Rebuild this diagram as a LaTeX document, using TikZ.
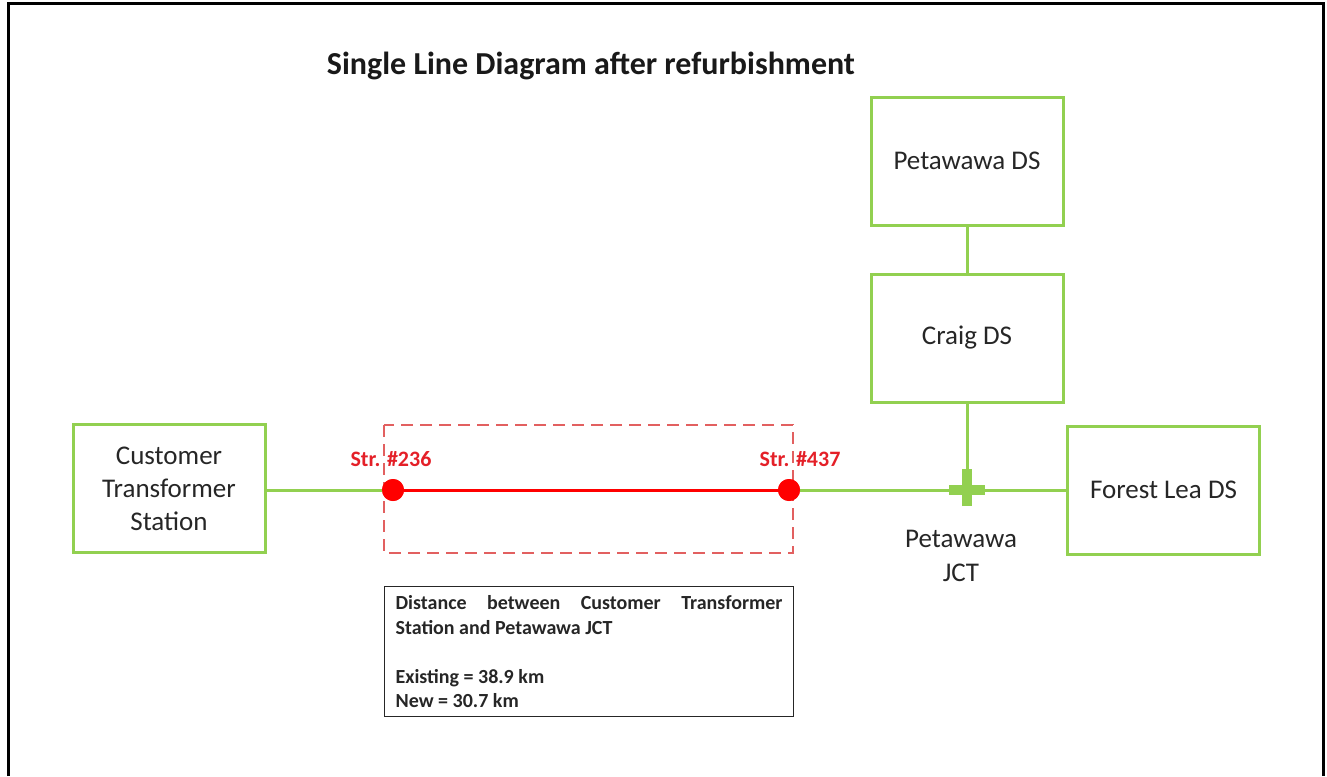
\documentclass[tikz,border=0pt]{standalone}
\usepackage{fontspec}
\setmainfont{Carlito}
\definecolor{lgreen}{RGB}{146,208,80}
\definecolor{dred}{RGB}{255,0,0}
\definecolor{lblred}{RGB}{228,32,40}
\definecolor{dashred}{RGB}{226,96,96}
\definecolor{txt}{RGB}{38,38,38}
\tikzset{
  gbox/.style={draw=lgreen, line width=3pt, minimum width=192pt, minimum height=128pt,
    align=center, text=txt, font=\fontsize{27}{33}\selectfont, inner sep=0pt},
  gline/.style={draw=lgreen, line width=3pt},
  rline/.style={draw=dred, line width=3pt},
  reddot/.style={circle, fill=dred, minimum size=22pt, inner sep=0pt},
  strlbl/.style={text=lblred, font=\fontsize{22}{26}\selectfont\bfseries, inner sep=0pt},
  dashbox/.style={draw=dashred, line width=2pt, dash pattern=on 12pt off 7pt},
  notebox/.style={draw=black!85, line width=1.2pt, anchor=north west, text width=387pt,
    inner xsep=11pt, inner ysep=9pt, align=justify, text=txt,
    font=\fontsize{20}{24.5}\selectfont\bfseries},
}
\begin{document}
\begin{tikzpicture}[x=1pt,y=-1pt]
\useasboundingbox (0,0) rectangle (1327,776);
% frame
\draw[line width=3pt, black] (8,776) -- (8,4) -- (1323,4) -- (1323,776);
% title
\node[font=\fontsize{32}{38}\selectfont\bfseries, text=black!90, inner sep=0pt] (title) at (591,66) {Single Line Diagram after refurbishment};
% boxes
\node[gbox] (cts) at (169,488.5) {Customer\\Transformer\\Station};
\node[gbox] (pds) at (967,161) {Petawawa DS};
\node[gbox] (craig) at (967,338) {Craig DS};
\node[gbox] (fl) at (1163.5,490) {Forest Lea DS};
% dashed region
\draw[dashbox] (384,425) rectangle (793,553);
% structures
\coordinate (jct) at (967,490);
\node[reddot] (s236) at (393,490) {};
\node[reddot] (s437) at (789,490) {};
% connectors
\draw[gline] (cts.east |- s236) -- (s236.center);
\draw[rline] (s236.center) -- (s437.center);
\draw[gline] (s437.center) -- (jct) -- (fl.west |- jct);
\draw[gline] (pds.south) -- (craig.north);
\draw[gline] (craig.south) -- (jct);
\node[reddot] at (s236) {};
\node[reddot] at (s437) {};
% junction plus
\draw[lgreen, line width=10pt] ([xshift=-18pt]jct) -- ([xshift=18pt]jct);
\draw[lgreen, line width=10pt] ([yshift=-16pt]jct) -- ([yshift=21pt]jct);
% labels
\node[strlbl] (l236) at (391,459) {Str. \#236};
\node[strlbl] (l437) at (800,459) {Str. \#437};
\node[align=center, text=txt, font=\fontsize{27}{34}\selectfont, inner sep=0pt] (jctlbl) at (961,556) {Petawawa\\JCT};
% note
\node[notebox] (note) at (384,586) {Distance between Customer Transformer\linebreak Station and Petawawa JCT\\[24.5pt]Existing = 38.9 km\\New = 30.7 km};
\end{tikzpicture}
\end{document}
